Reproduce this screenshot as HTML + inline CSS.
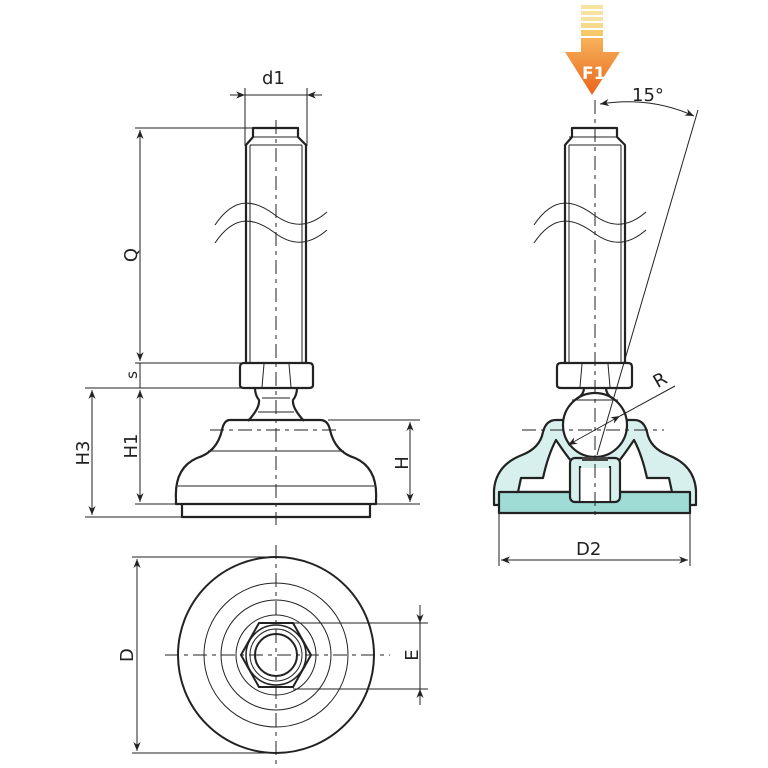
<!DOCTYPE html>
<html><head><style>body{margin:0;background:#fff}svg{display:block}text{font-family:"DejaVu Sans","Liberation Sans",sans-serif;fill:#222}</style></head>
<body>
<svg width="768" height="768" viewBox="0 0 768 768" xmlns="http://www.w3.org/2000/svg">
<defs>
<marker id="a" viewBox="0 0 10 10" refX="10" refY="5" markerWidth="9" markerHeight="9" orient="auto-start-reverse" markerUnits="userSpaceOnUse"><path d="M0,1 L10,5 L0,9 L3,5 Z" fill="#222"/></marker>
<linearGradient id="og" x1="0" y1="0" x2="0" y2="1"><stop offset="0" stop-color="#f7b25a"/><stop offset="1" stop-color="#e9651a"/></linearGradient>
</defs>
<g fill="none" stroke="#222" stroke-width="1">
<!-- LEFT VIEW -->
<g stroke-width="2.2" stroke-linejoin="round">
<path d="M246,363 V145 L253,137 V128 H298 V137 L306,145 V363"/>
<path d="M244,363 H309 Q313,363 313,367 V385 Q313,388 309,388 H244 Q240,388 240,385 V367 Q240,363 244,363 Z"/>
<path d="M255,388 Q255,395 259,400 Q260,408 248,421 M297,388 Q297,395 293,400 Q292,408 304,421"/>
<path d="M230,420 H320 Q328,420 330,430 Q335,452 355,458 Q378,468 376,500 L376,504 H176 L176,500 Q174,468 197,458 Q217,452 222,430 Q224,420 230,420 Z"/>
<path d="M182,504 V517 H370 V504"/>
</g>
<path d="M253,137 H298 M250,145 H302 M250,145 V363 M302,145 V363 M264,364 L262,387 M289,364 L291,387 M262,398 H290 M258,412 H294 M208,451 H344 M178,486 H374"/>
<path d="M215,225 C235,195 255,200 275,215 C295,230 312,225 327,212"/>
<path d="M215,243 C235,213 255,218 275,233 C295,248 312,243 327,230"/>
<path stroke-dasharray="14,5,4,5" d="M276,120 V525 M210,430 H336"/>
<!-- dims left -->
<path d="M135,128 H253 M135,363 H244 M85,388 H245 M135,504 H176 M376,504 H420 M85,517 H182 M328,420 H420 M245,88 V146 M307,88 V146"/>
<path d="M140,130 V361" marker-start="url(#a)" marker-end="url(#a)"/>
<path d="M140,390 V502" marker-start="url(#a)" marker-end="url(#a)"/>
<path d="M92,390 V515" marker-start="url(#a)" marker-end="url(#a)"/>
<path d="M410,422 V502" marker-start="url(#a)" marker-end="url(#a)"/>
<path d="M140,363 V388"/>
<path d="M230,95 H245" marker-end="url(#a)"/><path d="M322,95 H307" marker-end="url(#a)"/><path d="M245,95 H307"/>
<!-- RIGHT VIEW -->
<g stroke-width="2.2" stroke-linejoin="round">
<path d="M565,363 V145 L572,137 V128 H617 V137 L625,145 V363"/>
<path d="M561,363 H628 Q632,363 632,367 V385 Q632,388 628,388 H561 Q557,388 557,385 V367 Q557,363 561,363 Z"/>
<path fill="#d7f0ee" d="M494,505 V490 Q496,465 522,455 Q540,448 543,432 Q546,420 556,420 H634 Q644,420 647,432 Q650,448 668,455 Q694,465 696,490 V505 Z"/>
<path fill="#fff" d="M518,492 L521,478 H543 Q548,455 556,440 Q566,455 572,462 V492 Z"/>
<path fill="#fff" d="M672,492 L669,478 H647 Q642,455 634,440 Q624,455 618,462 V492 Z"/>
<path d="M499,492 H690 V513 H499 Z" fill="#9fdcd6"/>
<rect x="570" y="458" width="50" height="44" rx="5" fill="#d7f0ee"/>
<path d="M580,466 V501 M610,466 V501" fill="none"/>
<rect x="580" y="468" width="30" height="33" fill="#fff" stroke="none"/>
<circle cx="595" cy="425" r="32" fill="#fff"/>
<path d="M584,388 Q584,394 578,398 M606,388 Q606,394 612,398" />
<path d="M582,459 H608" stroke="#444" stroke-width="4"/>
</g>
<path d="M569,137 H617 M569,145 H621 M569,145 V363 M621,145 V363 M582,364 L580,387 M608,364 L610,387 M580,468 V501 M610,468 V501 M572,400 H618"/>
<path d="M534,225 C554,195 574,200 594,215 C614,230 631,225 646,212"/>
<path d="M534,243 C554,213 574,218 594,233 C614,248 631,243 646,230"/>
<path stroke-dasharray="14,5,4,5" d="M595,100 V520 M522,430 H664"/>
<path d="M597,455 L698,110"/>
<path d="M568,445 L620,416" marker-start="url(#a)" marker-end="url(#a)"/>
<path d="M620,416 L675,386"/>
<path d="M600,104 Q650,96 694,116" marker-start="url(#a)" marker-end="url(#a)"/>
<path d="M499,514 V566 M690,514 V566"/>
<path d="M501,560 H688" marker-start="url(#a)" marker-end="url(#a)"/>
<!-- F1 arrow -->
<g stroke="none">
<rect x="581" y="5" width="22" height="4" fill="#f7e3a0"/>
<rect x="581" y="11" width="22" height="4" fill="#f7e3a0"/>
<rect x="581" y="17" width="22" height="4" fill="#f7e3a0"/>
<rect x="581" y="23" width="22" height="5" fill="#f5da8c"/>
<rect x="581" y="30" width="22" height="6" fill="#f5c86a"/>
<path d="M581,38 H603 V52 H620 L592,95 L565,52 H581 Z" fill="url(#og)"/>
</g>
<text x="582" y="79" font-size="17" font-weight="bold" stroke="none" style="fill:#fff">F1</text>
<!-- BOTTOM VIEW -->
<circle cx="276" cy="655" r="98" stroke-width="2"/>
<circle cx="276" cy="655" r="72"/>
<circle cx="276" cy="655" r="55"/>
<circle cx="276" cy="655" r="40"/>
<path stroke-width="2" d="M259,623 H293 L311,655 L293,687 H259 L241,655 Z"/>
<circle cx="276" cy="655" r="30" stroke-width="1.5"/>
<circle cx="276" cy="655" r="26"/>
<circle cx="276" cy="655" r="21" stroke-width="2"/>
<path stroke-dasharray="14,5,4,5" d="M276,545 V765 M165,655 H390"/>
<path d="M132,557 H276 M132,753 H276 M293,623 H428 M293,689 H428"/>
<path d="M137,559 V751" marker-start="url(#a)" marker-end="url(#a)"/>
<path d="M420,605 V623" marker-end="url(#a)"/><path d="M420,705 V689" marker-end="url(#a)"/><path d="M420,623 V689"/>
</g>
<g font-size="18" stroke="none">
<text x="262" y="84">d1</text>
<text x="130" y="262" transform="rotate(-90 130 255)" text-anchor="middle">Q</text>
<text x="131" y="381" transform="rotate(-90 131 375)" text-anchor="middle" font-size="15">s</text>
<text x="131" y="452" transform="rotate(-90 131 446)" text-anchor="middle">H1</text>
<text x="83" y="459" transform="rotate(-90 83 453)" text-anchor="middle">H3</text>
<text x="402" y="469" transform="rotate(-90 402 463)" text-anchor="middle">H</text>
<text x="576" y="555">D2</text>
<text x="632" y="101">15°</text>
<text x="660" y="386" transform="rotate(-30 660 380)" text-anchor="middle">R</text>
<text x="127" y="661" transform="rotate(-90 127 655)" text-anchor="middle">D</text>
<text x="412" y="661" transform="rotate(-90 412 655)" text-anchor="middle">E</text>
</g>
</svg>
</body></html>
